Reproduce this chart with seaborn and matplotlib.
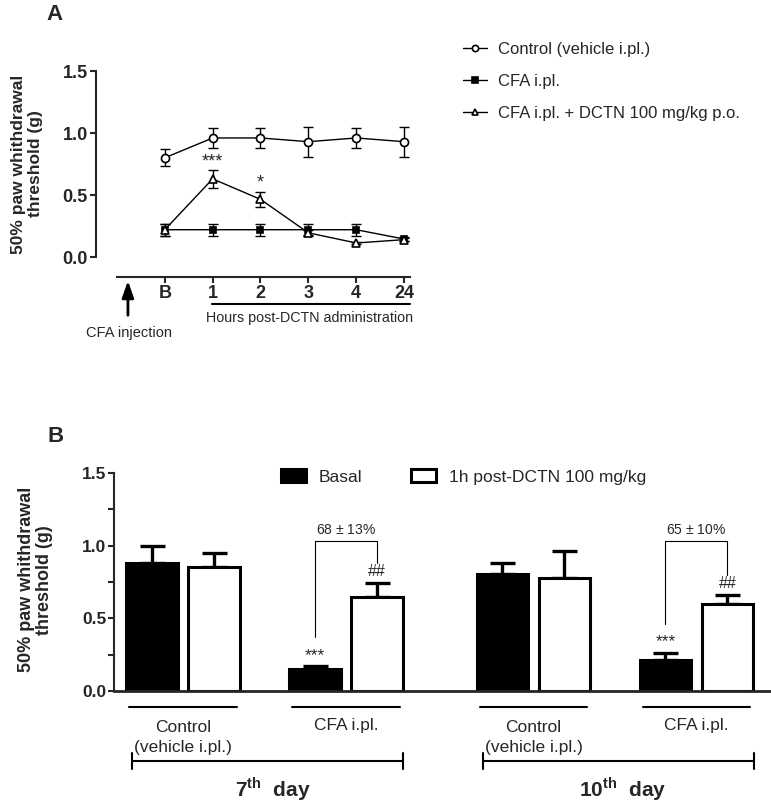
import numpy as np
import pandas as pd
import matplotlib
matplotlib.use("Agg")
import matplotlib.pyplot as plt
from matplotlib.lines import Line2D
import seaborn as sns

# ---- panel A data ----
time_labels = ["B", "1", "2", "3", "4", "24"]
ctrl_mean = [0.80, 0.96, 0.96, 0.93, 0.96, 0.93]
ctrl_sem = [0.07, 0.08, 0.08, 0.12, 0.08, 0.12]
cfa_mean = [0.22, 0.22, 0.22, 0.22, 0.22, 0.145]
cfa_sem = [0.05, 0.05, 0.05, 0.05, 0.05, 0.02]
dctn_mean = [0.22, 0.63, 0.465, 0.195, 0.113, 0.14]
dctn_sem = [0.05, 0.07, 0.06, 0.02, 0.01, 0.01]
series_names = ["Control (vehicle i.pl.)", "CFA i.pl.", "CFA i.pl. + DCTN 100 mg/kg p.o."]

# ---- panel B data ----
groups = ["Control\n(vehicle i.pl.)", "CFA i.pl.", "Control\n(vehicle i.pl.)", "CFA i.pl."]
group_day = [0, 0, 1, 1]
conditions = ["Basal", "1h post-DCTN 100 mg/kg"]
basal_mean = [0.88, 0.15, 0.806, 0.212]
basal_sem = [0.115, 0.02, 0.078, 0.05]
post_mean = [0.85, 0.645, 0.78, 0.60]
post_sem = [0.10, 0.097, 0.18, 0.058]
pct_text = ["68 $\\pm$ 13%", "65 $\\pm$ 10%"]

sns.set_style("ticks")
plt.rcParams["font.family"] = ["Liberation Sans", "DejaVu Sans"]
plt.rcParams["mathtext.fontset"] = "custom"
plt.rcParams["mathtext.rm"] = "Liberation Sans"
plt.rcParams["mathtext.bf"] = "Liberation Sans:bold"

W, H = 771, 805
fig = plt.figure(figsize=(W / 100, H / 100), dpi=100)

# ================= panel A =================
axA = fig.add_axes([96 / W, 1 - 257 / H, 324 / W, 186 / H])
xpos = np.arange(len(time_labels))
dfA = pd.DataFrame({
    "x": np.tile(xpos, 3),
    "y": ctrl_mean + cfa_mean + dctn_mean,
    "sem": ctrl_sem + cfa_sem + dctn_sem,
    "group": np.repeat(series_names, len(xpos)),
})
markers = {series_names[0]: "o", series_names[1]: "s", series_names[2]: "^"}
faces = {series_names[0]: "white", series_names[1]: "black", series_names[2]: "white"}
sizes = {series_names[0]: 5.8, series_names[1]: 5, series_names[2]: 6}
for name in series_names:
    d = dfA[dfA["group"] == name]
    axA.errorbar(d["x"], d["y"], yerr=d["sem"], fmt="none", ecolor="black",
                 elinewidth=1, capsize=3.5, capthick=1, zorder=2)
    sns.lineplot(data=d, x="x", y="y", ax=axA, color="black", lw=1,
                 marker=markers[name], markersize=sizes[name],
                 markerfacecolor=faces[name], markeredgecolor="black",
                 markeredgewidth=1.2, zorder=3, legend=False)

axA.set_xlim(-(165 - 96) / 48, 5 + (420 - 404) / 48)
axA.set_ylim(0, 1.5)
axA.set_yticks([0, 0.5, 1.0, 1.5])
axA.set_yticklabels(["0.0", "0.5", "1.0", "1.5"])
axA.set_xticks(xpos)
axA.set_xticklabels(time_labels)
for s in ["top", "right"]:
    axA.spines[s].set_visible(False)
axA.spines["left"].set_linewidth(1.5)
axA.spines["bottom"].set_linewidth(1.5)
axA.spines["bottom"].set_position(("outward", 14.4))
axA.spines["bottom"].set_bounds(-1.0, 5.125)
axA.tick_params(axis="both", direction="out", length=4, width=1.5,
                labelsize=13, pad=2)
for t in axA.get_xticklabels() + axA.get_yticklabels():
    t.set_fontweight("bold")
axA.set_xlabel("")
axA.set_ylabel("50% paw whithdrawal\nthreshold (g)", fontsize=12.5,
               fontweight="bold", linespacing=1.1)
axA.yaxis.set_label_coords(-0.165, 0.5)

pxA = 0.5 / 62
axA.text(1, dctn_mean[1] + dctn_sem[1] + 0.0, "***", ha="center", va="bottom", fontsize=13)
axA.text(2, dctn_mean[2] + dctn_sem[2] + 0.0, "*", ha="center", va="bottom", fontsize=13)
axA.annotate("", xy=(-0.77, -(278 - 257) * pxA), xytext=(-0.77, -(318 - 257) * pxA),
             xycoords="data", annotation_clip=False,
             arrowprops=dict(arrowstyle="-|>,head_length=1.0,head_width=0.35",
                             color="black", lw=2))
axA.text(-0.74, -(333 - 257) * pxA, "CFA injection", ha="center", va="center",
         fontsize=10.5, clip_on=False)
axA.plot([0.98, 5.13], [-(304 - 257) * pxA] * 2, color="black", lw=1.5, clip_on=False)
axA.text(3.02, -(318 - 257) * pxA, "Hours post-DCTN administration", ha="center",
         va="center", fontsize=10.3, clip_on=False)
axA.text(-(96 - 54) / 48 - 1.4375, 1.5 + (71 - 14) * pxA, "A", ha="center", va="center",
         fontsize=16, fontweight="bold", clip_on=False)

handles = [Line2D([], [], color="black", lw=1, marker=markers[n], markersize=4.5,
                  markerfacecolor=faces[n], markeredgecolor="black", markeredgewidth=1.2)
           for n in series_names]
fig.legend(handles, series_names, loc="upper left", bbox_to_anchor=(455 / W, 1 - 34 / H),
           frameon=False, fontsize=12, handlelength=1.4, handletextpad=0.7,
           labelspacing=1.0, borderpad=0)

# ================= panel B =================
axB = fig.add_axes([114 / W, 1 - 691 / H, 656 / W, 218 / H])
unit = 163.0
day_gap = 0.15
gpos = [i + day_gap * d for i, d in enumerate(group_day)]
dfB = pd.DataFrame({
    "pos": gpos * 2,
    "val": basal_mean + post_mean,
    "sem": basal_sem + post_sem,
    "cond": np.repeat(conditions, len(gpos)),
})
sns.barplot(data=dfB, x="pos", y="val", hue="cond", hue_order=conditions,
            palette={conditions[0]: "black", conditions[1]: "white"},
            native_scale=True, width=0.76, gap=0.17, errorbar=None,
            edgecolor="black", linewidth=2.2, ax=axB, zorder=2)
off = 0.19
for i, g in enumerate(gpos):
    axB.errorbar([g - off, g + off], [basal_mean[i], post_mean[i]],
                 yerr=[[0, 0], [basal_sem[i], post_sem[i]]], fmt="none",
                 ecolor="black", elinewidth=2.4, capsize=9, capthick=2.4, zorder=1)

axB.set_xlim((114 - 183) / unit, (770 - 183) / unit)
axB.set_ylim(0, 1.5)
axB.set_yticks([0, 0.5, 1.0, 1.5])
axB.set_yticklabels(["0.0", "0.5", "1.0", "1.5"])
axB.set_yticks([0.25, 0.75, 1.25], minor=True)
axB.set_xticks([])
for s in ["top", "right"]:
    axB.spines[s].set_visible(False)
axB.spines["left"].set_linewidth(1.5)
axB.spines["bottom"].set_linewidth(2)
axB.tick_params(axis="y", which="both", direction="out", length=4, width=1.5,
                labelsize=12.5, pad=1.5)
for t in axB.get_yticklabels():
    t.set_fontweight("bold")
axB.set_xlabel("")
axB.set_ylabel("50% paw whithdrawal\nthreshold (g)", fontsize=13,
               fontweight="bold", linespacing=1.05)
axB.yaxis.set_label_coords(-0.093, 0.51)

sns.move_legend(axB, "center left", bbox_to_anchor=(272 / W, 1 - 477 / H),
                bbox_transform=fig.transFigure, ncol=2, frameon=False, title=None,
                fontsize=12.5, handlelength=1.45, handleheight=0.7,
                handletextpad=0.75, columnspacing=2.8, borderpad=0)

pxB = 0.5 / 72.4
for i, g in enumerate(gpos):
    # group underline and label
    axB.plot([g - 0.33, g + 0.33], [-16 * pxB] * 2, color="black", lw=1.5, clip_on=False)
    if "\n" in groups[i]:
        axB.text(g, -46 * pxB, groups[i], ha="center", va="center", fontsize=12.5,
                 linespacing=1.4, clip_on=False)
    else:
        axB.text(g, -34 * pxB, groups[i], ha="center", va="center", fontsize=12.5,
                 clip_on=False)

for d in range(2):
    g0, g1 = gpos[2 * d], gpos[2 * d + 1]
    yb = -70 * pxB
    axB.plot([g0 - 0.31, g1 + 0.35], [yb, yb], color="black", lw=1.5, clip_on=False)
    for xe in (g0 - 0.31, g1 + 0.35):
        axB.plot([xe, xe], [yb - 8 * pxB, yb + 8 * pxB], color="black", lw=1.5, clip_on=False)
    lab = ["7", "10"][d]
    axB.text((g0 + g1) / 2 + 0.05, -98 * pxB, lab + r"$^{\mathbf{th}}$  day", ha="center",
             va="center", fontsize=15, fontweight="bold", clip_on=False)

    # significance marks on CFA pair
    b, p = basal_mean[2 * d + 1], post_mean[2 * d + 1]
    bs, ps = basal_sem[2 * d + 1], post_sem[2 * d + 1]
    axB.text(g1 - off, b + bs + 0.025, "***", ha="center", va="bottom", fontsize=12.5)
    axB.text(g1 + off, p + ps + 0.03, "##", ha="center", va="bottom", fontsize=11.5)
    ytop = 1.03
    axB.plot([g1 - off, g1 - off, g1 + off, g1 + off],
             [b + bs + 0.2, ytop, ytop, p + ps + 0.14], color="black", lw=0.8)
    axB.text(g1, ytop + 0.03, pct_text[d], ha="center", va="bottom", fontsize=10)

axB.text((114 - 183) / unit - (114 - 56) / unit, 1.5 + (473 - 437) * pxB, "B",
         ha="center", va="center", fontsize=16, fontweight="bold", clip_on=False)

fig.savefig("out.png", dpi=100)
